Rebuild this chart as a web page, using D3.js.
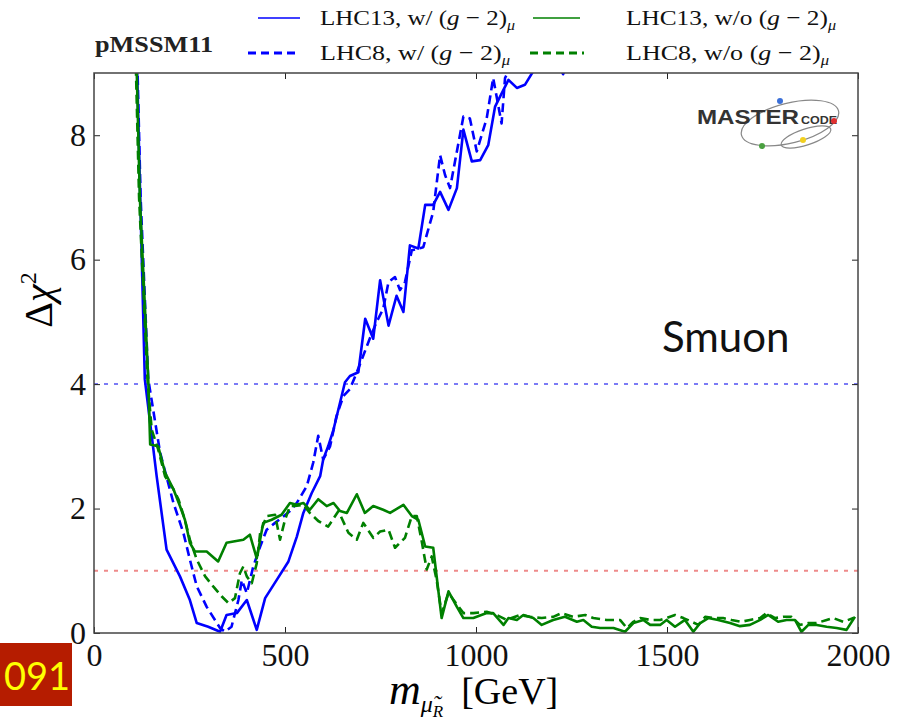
<!DOCTYPE html>
<html>
<head>
<meta charset="utf-8">
<script src="https://cdn.jsdelivr.net/npm/d3@7"></script>
<style>
  body { margin: 0; background: #fff; }
  svg { display: block; }
</style>
</head>
<body>
<div id="chart"></div>
<script>
// values: [m (GeV), delta chi^2]
const lhc13With = [
  [109,10],[121,7],[133,4.08],[164,2.52],[190,1.34],[225,0.91],[251,0.53],[269,0.16],[299,0.10],
  [330,0.02],[347,0.29],[374,0.32],[400,0.53],[426,0.05],[448,0.56],[478,0.85],[509,1.15],[531,1.55],
  [548,1.93],[570,2.25],[592,2.52],[600,2.79],[613,3.0],[627,3.27],[644,3.7],[657,4.03],[670,4.13],
  [692,4.19],[710,5.05],[731,4.73],[749,5.67],[771,4.94],[792,5.42],[810,5.16],[827,6.23],[849,6.18],
  [867,6.88],[888,6.88],[906,7.09],[928,6.80],[950,7.15],[967,8.09],[989,7.58],[1011,7.60],[1032,7.84],
  [1050,8.46],[1063,8.62],[1085,8.89],[1107,8.76],[1128,8.81],[1150,9.03],[1190,9.5],[1228,8.98],
  [1270,9.6],[1350,10.5]
];
const lhc8With = [
  [109,10.3],[122,7],[142,4.08],[173,2.90],[208,2.09],[234,1.61],[251,1.18],[269,0.75],[295,0.42],
  [330,0.08],[343,0.02],[360,0.10],[378,0.53],[387,0.85],[400,0.64],[417,1.07],[435,1.39],[452,1.66],
  [474,1.77],[491,1.85],[513,1.96],[531,2.09],[557,2.36],[574,2.74],[587,3.17],[600,2.79],[618,3.0],
  [635,3.49],[653,3.81],[670,3.92],[688,4.19],[705,4.46],[723,4.75],[740,5.0],[757,5.21],[771,5.64],
  [788,5.72],[801,5.51],[814,5.64],[832,6.15],[862,6.20],[888,6.77],[906,7.68],[919,7.36],[932,7.15],
  [967,8.30],[984,8.27],[1002,7.74],[1028,8.27],[1045,8.92],[1067,8.19],[1076,8.92],[1085,9.03],[1120,9.8]
];
const lhc13Without = [
  [108,10],[120,7],[142,4.08],[147,3.03],[168,3.0],[186,2.58],[208,2.31],[225,2.04],[238,1.82],
  [251,1.45],[264,1.31],[295,1.31],[325,1.15],[347,1.45],[365,1.47],[391,1.50],[408,1.58],[426,1.20],
  [443,1.77],[465,1.82],[491,1.90],[513,2.09],[531,2.06],[548,2.09],[565,1.98],[587,2.15],[609,2.04],
  [627,2.09],[644,1.96],[662,1.93],[688,2.23],[709,1.93],[731,2.04],[757,1.98],[775,1.93],[810,2.06],
  [832,1.88],[849,1.82],[867,1.39],[888,1.37],[910,0.24],[928,0.67],[950,0.42],[967,0.24],[993,0.24],
  [1028,0.32],[1045,0.32],[1072,0.13],[1085,0.24],[1107,0.21],[1124,0.29],[1150,0.24],[1172,0.13],
  [1202,0.21],[1233,0.26],[1264,0.18],[1281,0.21],[1303,0.10],[1325,0.08],[1360,0.08],[1390,0.02],
  [1412,0.16],[1438,0.21],[1456,0.13],[1482,0.13],[1499,0.21],[1521,0.10],[1547,0.21],[1569,0.02],
  [1587,0.16],[1608,0.24],[1634,0.21],[1665,0.16],[1691,0.11],[1717,0.13],[1744,0.21],[1765,0.29],
  [1791,0.18],[1813,0.21],[1835,0.21],[1852,0.02],[1870,0.13],[1892,0.13],[1918,0.10],[1944,0.08],
  [1970,0.05],[1992,0.26]
];
const lhc8Without = [
  [106,10],[118,7],[140,4.08],[151,3.27],[168,2.95],[186,2.52],[208,2.31],[221,2.15],[238,1.82],
  [251,1.50],[269,1.18],[291,0.91],[312,0.75],[334,0.59],[352,0.48],[369,0.56],[382,0.96],[391,1.07],
  [400,0.91],[413,0.80],[426,1.12],[435,1.61],[452,1.88],[474,1.90],[487,1.50],[500,1.82],[513,2.04],
  [526,2.04],[548,2.06],[565,1.93],[587,1.80],[613,1.71],[640,1.96],[666,1.61],[688,1.50],[705,1.77],
  [731,1.53],[749,1.63],[771,1.66],[788,1.37],[814,1.53],[832,1.88],[845,1.88],[858,1.47],[871,1.02],
  [884,1.23],[897,0.85],[910,0.32],[928,0.64],[967,0.32],[993,0.32],[1028,0.34],[1054,0.29],[1080,0.21],
  [1115,0.29],[1141,0.26],[1172,0.24],[1202,0.26],[1224,0.32],[1255,0.26],[1286,0.29],[1307,0.24],
  [1342,0.21],[1377,0.21],[1395,0.08],[1412,0.18],[1430,0.24],[1456,0.21],[1482,0.21],[1499,0.24],
  [1521,0.29],[1543,0.24],[1565,0.18],[1582,0.13],[1600,0.26],[1621,0.24],[1647,0.24],[1669,0.21],
  [1695,0.18],[1717,0.21],[1744,0.24],[1760,0.32],[1783,0.24],[1805,0.26],[1826,0.26],[1848,0.13],
  [1870,0.16],[1892,0.16],[1918,0.21],[1935,0.24],[1961,0.18],[1988,0.24]
];
const xTicks = [0, 500, 1000, 1500, 2000];
const yTicks = [0, 2, 4, 6, 8];
const refLevels = [4, 1];

const width = 903;
const height = 721;
const margin = {top: 73, right: 45, bottom: 88, left: 94};
const serif = "'Liberation Serif', 'DejaVu Serif', serif";

const svg = d3.select("#chart")
    .append("svg")
    .attr("width", width)
    .attr("height", height);

const x = d3.scaleLinear()
    .domain([0, 2000])
    .range([margin.left, width - margin.right]);

const y = d3.scaleLinear()
    .domain([0, 9])
    .range([height - margin.bottom, margin.top]);

svg.append("clipPath").attr("id", "plot")
  .append("rect")
    .attr("x", x(0)).attr("y", y(9))
    .attr("width", x(2000) - x(0)).attr("height", y(0) - y(9));

const plot = svg.append("g").attr("clip-path", "url(#plot)");

// reference levels
plot.selectAll("line.ref")
  .data(refLevels)
  .join("line")
    .attr("x1", x(0)).attr("x2", x(2000))
    .attr("y1", d => y(d)).attr("y2", d => y(d))
    .attr("stroke", d => d == 4 ? "#7b7bf5" : "#ee8a8a")
    .attr("stroke-width", 2)
    .attr("stroke-dasharray", "4,6");

const series = [
  {data: lhc13With, color: "#0000ff", dash: null},
  {data: lhc8With, color: "#0000ff", dash: "9,5"},
  {data: lhc8Without, color: "#008000", dash: "9,5"},
  {data: lhc13Without, color: "#008000", dash: null}
];

const line = d3.line()
    .x(d => x(d[0]))
    .y(d => y(d[1]));

plot.selectAll("path.curve")
  .data(series)
  .join("path")
    .attr("fill", "none")
    .attr("stroke", d => d.color)
    .attr("stroke-width", 2.6)
    .attr("stroke-linejoin", "round")
    .attr("stroke-dasharray", d => d.dash)
    .attr("d", d => line(d.data));

// axes with inward ticks on all four sides
function styleAxis(g) {
    g.attr("font-family", serif).attr("font-size", 32);
    g.select(".domain").remove();
    g.selectAll("line").attr("stroke", "#222");
    g.selectAll("text").style("font-family", serif).style("font-size", "32px").attr("fill", "#111");
}

svg.append("g")
    .attr("transform", `translate(0, ${y(0)})`)
    .call(d3.axisBottom(x).tickValues(xTicks).tickFormat(d3.format("d"))
        .tickSizeInner(-6).tickSizeOuter(0).tickPadding(10))
    .call(styleAxis);

svg.append("g")
    .attr("transform", `translate(0, ${y(9)})`)
    .call(d3.axisTop(x).tickValues(xTicks).tickSizeInner(-6).tickSizeOuter(0).tickFormat(""))
    .call(styleAxis);

svg.append("g")
    .attr("transform", `translate(${x(0)}, 0)`)
    .call(d3.axisLeft(y).tickValues(yTicks).tickSizeInner(-6).tickSizeOuter(0).tickPadding(8))
    .call(styleAxis);

svg.append("g")
    .attr("transform", `translate(${x(2000)}, 0)`)
    .call(d3.axisRight(y).tickValues(yTicks).tickSizeInner(-6).tickSizeOuter(0).tickFormat(""))
    .call(styleAxis);

svg.append("rect")
    .attr("x", x(0)).attr("y", y(9))
    .attr("width", x(2000) - x(0)).attr("height", y(0) - y(9))
    .attr("fill", "none")
    .attr("stroke", "#444")
    .attr("stroke-width", 1.5);

// axis titles
const yTitle = svg.append("text")
    .attr("transform", "translate(52, 300) rotate(-90)")
    .attr("text-anchor", "middle")
    .style("font-family", serif)
    .style("font-size", "40px");
yTitle.append("tspan").text("Δ");
yTitle.append("tspan").attr("font-style", "italic").text("χ");
yTitle.append("tspan").style("font-size", "24px").attr("dy", "-16").text("2");

const xTitle = svg.append("text")
    .attr("x", 389).attr("y", 704)
    .style("font-family", serif)
    .style("font-size", "38px");
xTitle.append("tspan").attr("font-style", "italic").style("font-size", "44px").text("m");
xTitle.append("tspan").attr("font-style", "italic").style("font-size", "24px").attr("dy", "8").text("μ\u0303");
xTitle.append("tspan").attr("font-style", "italic").style("font-size", "17px").attr("dy", "5").text("R");
xTitle.append("tspan").attr("dy", "-13").attr("dx", "18").text("[GeV]");

// legend
svg.append("text")
    .attr("x", 95).attr("y", 52)
    .style("font-family", serif)
    .style("font-size", "24px")
    .attr("font-weight", "bold")
    .attr("fill", "#222")
    .attr("textLength", 118)
    .attr("lengthAdjust", "spacingAndGlyphs")
    .text("pMSSM11");

const legendItems = [
  {label: "LHC13, w/", color: "#0000ff", dash: null, lx: 258, l2: 300, tx: 320, ty: 25, w: 195},
  {label: "LHC8, w/", color: "#0000ff", dash: "8,5", lx: 248, l2: 300, tx: 320, ty: 60, w: 190},
  {label: "LHC13, w/o", color: "#008000", dash: null, lx: 533, l2: 580, tx: 626, ty: 25, w: 210},
  {label: "LHC8, w/o", color: "#008000", dash: "8,5", lx: 530, l2: 584, tx: 626, ty: 60, w: 203}
];

const legend = svg.append("g");
legend.selectAll("line")
  .data(legendItems)
  .join("line")
    .attr("x1", d => d.lx).attr("x2", d => d.l2)
    .attr("y1", d => d.ty - 7).attr("y2", d => d.ty - 7)
    .attr("stroke", d => d.color)
    .attr("stroke-width", d => d.dash ? 2.8 : 1.5)
    .attr("stroke-dasharray", d => d.dash);

legend.selectAll("text")
  .data(legendItems)
  .join("text")
    .attr("x", d => d.tx).attr("y", d => d.ty)
    .style("font-family", serif)
    .style("font-size", "22px")
    .attr("fill", "#111")
    .attr("textLength", d => d.w)
    .attr("lengthAdjust", "spacingAndGlyphs")
    .each(function (d) {
        const t = d3.select(this);
        t.append("tspan").text(d.label + " (");
        t.append("tspan").attr("font-style", "italic").text("g");
        t.append("tspan").text(" − 2)");
        t.append("tspan").attr("font-style", "italic").style("font-size", "14px").attr("dy", "5").text("μ");
    });

// annotation
svg.append("text")
    .attr("x", 662).attr("y", 352)
    .style("font-family", "Lato, 'Open Sans', sans-serif")
    .style("font-size", "42px")
    .attr("fill", "#111")
    .text("Smuon");

// slide number box
svg.append("rect")
    .attr("x", 0).attr("y", 643)
    .attr("width", 72).attr("height", 63)
    .attr("fill", "#b51c00");
svg.append("text")
    .attr("x", 70).attr("y", 690)
    .attr("text-anchor", "end")
    .style("font-family", "Lato, 'Open Sans', sans-serif")
    .style("font-size", "38px")
    .attr("fill", "#ffff00")
    .text("091");

// logo
const logo = svg.append("g");
logo.append("ellipse")
    .attr("cx", 790).attr("cy", 123).attr("rx", 50).attr("ry", 20)
    .attr("transform", "rotate(-14, 790, 123)")
    .attr("fill", "none").attr("stroke", "#888").attr("stroke-width", 1.2);
logo.append("ellipse")
    .attr("cx", 806).attr("cy", 137).attr("rx", 26).attr("ry", 8)
    .attr("transform", "rotate(-18, 806, 137)")
    .attr("fill", "none").attr("stroke", "#888").attr("stroke-width", 1.2);
logo.append("text")
    .attr("x", 697).attr("y", 124)
    .style("font-family", "'Liberation Sans', sans-serif")
    .style("font-size", "21px")
    .attr("font-weight", "bold")
    .attr("fill", "#333")
    .attr("textLength", 102)
    .attr("lengthAdjust", "spacingAndGlyphs")
    .text("MASTER");
logo.append("text")
    .attr("x", 801).attr("y", 124)
    .style("font-family", "'Liberation Sans', sans-serif")
    .style("font-size", "11px")
    .attr("font-weight", "bold")
    .attr("fill", "#333")
    .attr("textLength", 36)
    .attr("lengthAdjust", "spacingAndGlyphs")
    .text("CODE");
const dots = [[780, 101, "#3a6fd8"], [834, 121, "#e03030"], [803, 140, "#f2d020"], [762, 146, "#4aa040"]];
logo.selectAll("circle")
  .data(dots)
  .join("circle")
    .attr("cx", d => d[0]).attr("cy", d => d[1]).attr("r", 3)
    .attr("fill", d => d[2]);
</script>
</body>
</html>
